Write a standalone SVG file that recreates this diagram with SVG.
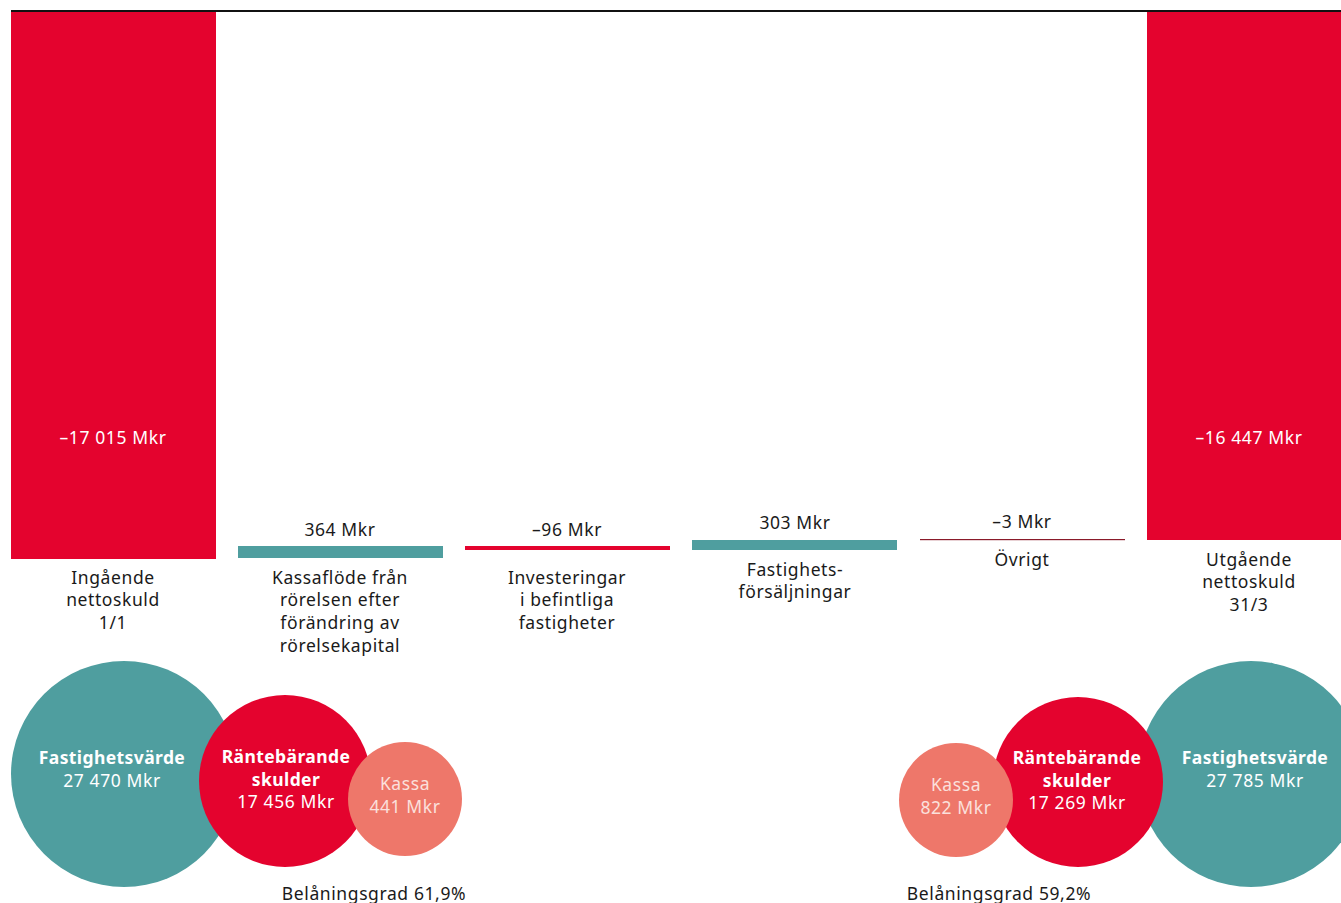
<svg xmlns="http://www.w3.org/2000/svg" width="1341" height="903" viewBox="0 0 1341 903">
<style>
text{font-family:"Noto Sans","Open Sans",sans-serif;font-size:17.5px;letter-spacing:0.6px;text-anchor:middle;fill:#1a1a1a}
.w{fill:#fff}
.b{font-weight:bold;letter-spacing:0.4px}
.k{fill:#fbe0dc}
.red{fill:#E4032E}
.teal{fill:#4F9E9F}
.sal{fill:#EE776A}
</style>
<rect width="1341" height="903" fill="#fff"/>
<line x1="11" y1="11" x2="1341" y2="11" stroke="#111" stroke-width="2"/>
<g id="bar-ingaende">
<rect class="red" x="11" y="12" width="205" height="547"/>
<text class="w" x="113" y="444">–17 015 Mkr</text>
<text x="113" y="584">Ingående</text>
<text x="113" y="606">nettoskuld</text>
<text x="113" y="629">1/1</text>
</g>
<g id="bar-kassaflode">
<rect class="teal" x="238" y="546" width="205" height="12"/>
<text x="340" y="536">364 Mkr</text>
<text x="340" y="584">Kassaflöde från</text>
<text x="340" y="606">rörelsen efter</text>
<text x="340" y="629">förändring av</text>
<text x="340" y="652">rörelsekapital</text>
</g>
<g id="bar-investeringar">
<rect class="red" x="465" y="546" width="205" height="4"/>
<text x="567" y="536">–96 Mkr</text>
<text x="567" y="584">Investeringar</text>
<text x="567" y="606">i befintliga</text>
<text x="567" y="629">fastigheter</text>
</g>
<g id="bar-forsaljningar">
<rect class="teal" x="692" y="540" width="205" height="10"/>
<text x="795" y="529">303 Mkr</text>
<text x="795" y="576">Fastighets-</text>
<text x="795" y="598">försäljningar</text>
</g>
<g id="bar-ovrigt">
<rect x="920" y="539" width="205" height="1.2" fill="#8a1a2a"/>
<text x="1022" y="528">–3 Mkr</text>
<text x="1022" y="566">Övrigt</text>
</g>
<g id="bar-utgaende">
<rect class="red" x="1147" y="12" width="194" height="528"/>
<text class="w" x="1249" y="444">–16 447 Mkr</text>
<text x="1249" y="566">Utgående</text>
<text x="1249" y="588">nettoskuld</text>
<text x="1249" y="611">31/3</text>
</g>
<g id="left-fastighetsvarde">
<circle class="teal" cx="124" cy="774" r="113"/>
<text class="w b" x="112" y="764">Fastighetsvärde</text>
<text class="w" x="112" y="787">27 470 Mkr</text>
</g>
<g id="left-rantebarande">
<circle class="red" cx="285" cy="781" r="86"/>
<text class="w b" x="286" y="763">Räntebärande</text>
<text class="w b" x="286" y="786">skulder</text>
<text class="w" x="286" y="808">17 456 Mkr</text>
</g>
<g id="left-kassa">
<circle class="sal" cx="405" cy="799" r="57"/>
<text class="k" x="405" y="790">Kassa</text>
<text class="k" x="405" y="813">441 Mkr</text>
</g>
<g id="left-belaning">
<text x="374" y="900">Belåningsgrad 61,9%</text>
</g>
<g id="right-fastighetsvarde">
<circle class="teal" cx="1251" cy="774" r="113"/>
<text class="w b" x="1255" y="764">Fastighetsvärde</text>
<text class="w" x="1255" y="787">27 785 Mkr</text>
</g>
<g id="right-rantebarande">
<circle class="red" cx="1078" cy="782" r="85"/>
<text class="w b" x="1077" y="764">Räntebärande</text>
<text class="w b" x="1077" y="787">skulder</text>
<text class="w" x="1077" y="809">17 269 Mkr</text>
</g>
<g id="right-kassa">
<circle class="sal" cx="956" cy="800" r="57"/>
<text class="k" x="956" y="791">Kassa</text>
<text class="k" x="956" y="814">822 Mkr</text>
</g>
<g id="right-belaning">
<text x="999" y="900">Belåningsgrad 59,2%</text>
</g>
<g id="connectors"/>
</svg>
